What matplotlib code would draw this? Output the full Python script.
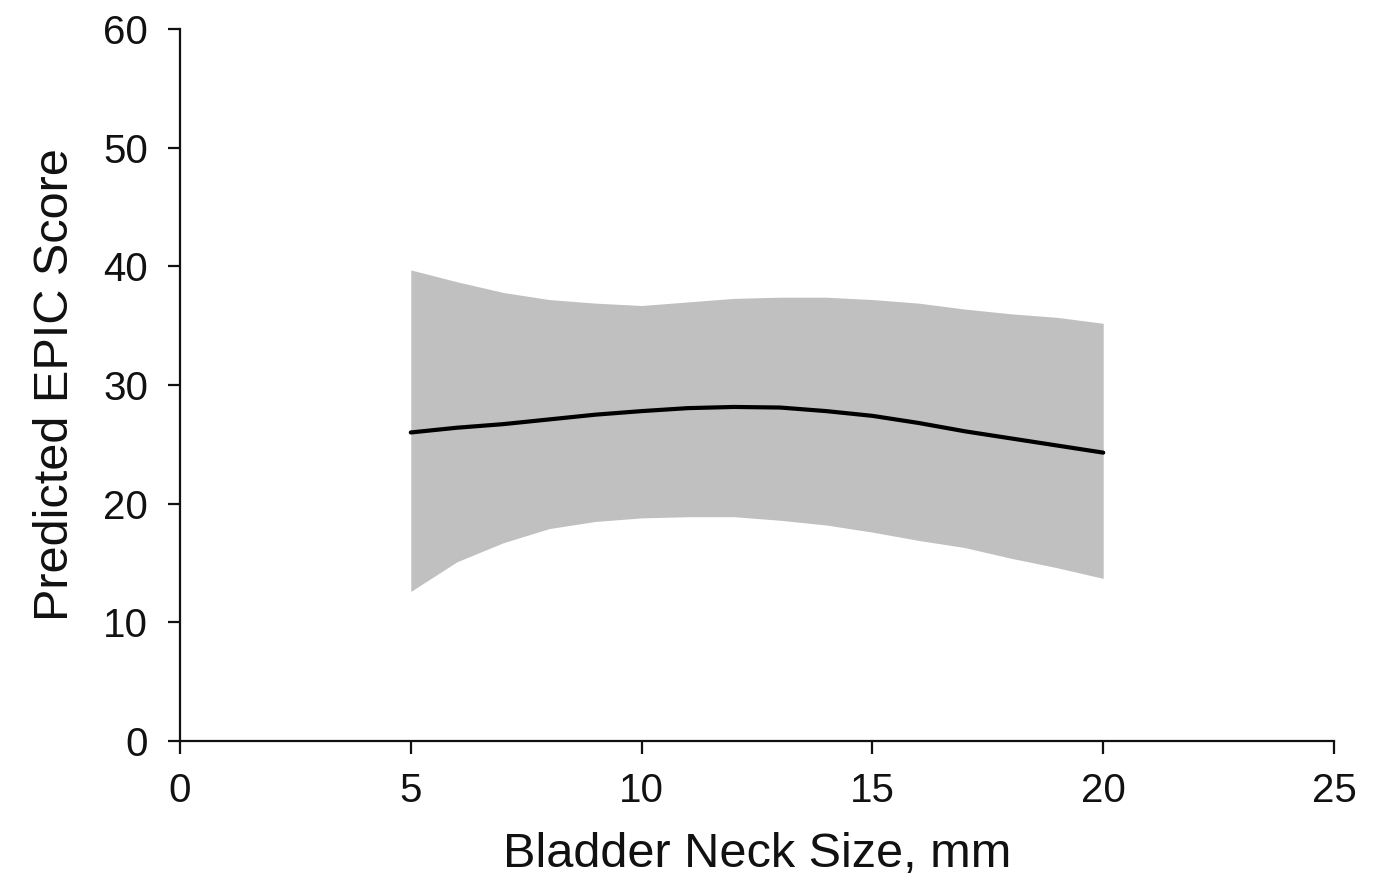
import matplotlib.pyplot as plt

plt.rcParams['font.family'] = ['Liberation Sans', 'DejaVu Sans']

# values, one per mm
neck_size = [5, 6, 7, 8, 9, 10, 11, 12, 13, 14, 15, 16, 17, 18, 19, 20]
epic_pred = [26.0, 26.4, 26.7, 27.1, 27.5, 27.8, 28.05, 28.15, 28.1, 27.8,
             27.4, 26.8, 26.1, 25.5, 24.9, 24.3]
ci_upper = [39.7, 38.7, 37.8, 37.2, 36.9, 36.7, 37.0, 37.3, 37.4, 37.4,
            37.2, 36.9, 36.4, 36.0, 35.7, 35.2]
ci_lower = [12.6, 15.1, 16.7, 17.9, 18.5, 18.8, 18.9, 18.9, 18.6, 18.2,
            17.6, 16.9, 16.3, 15.4, 14.6, 13.7]

x_ticks = [0, 5, 10, 15, 20, 25]
y_ticks = [0, 10, 20, 30, 40, 50, 60]

fig = plt.figure(figsize=(13.76, 8.8), dpi=100)
ax = fig.add_axes([0.1308, 0.158, 0.8387, 0.809])

ax.fill_between(neck_size, ci_lower, ci_upper, color='#c0c0c0', linewidth=0)
ax.plot(neck_size, epic_pred, color='black', linewidth=3, solid_capstyle='round')

ax.set_xlim(0, 25)
ax.set_ylim(0, 60)
ax.set_xticks(x_ticks)
ax.set_yticks(y_ticks)

for side in ('top', 'right'):
    ax.spines[side].set_visible(False)
for side in ('left', 'bottom'):
    ax.spines[side].set_linewidth(1.6)
    ax.spines[side].set_color('#111111')

ax.tick_params(axis='both', direction='out', length=9, width=1.6, labelsize=29, colors='#111111')
ax.tick_params(axis='y', pad=14)
ax.tick_params(axis='x', pad=13)

ax.set_xlabel('Bladder Neck Size, mm', fontsize=35, labelpad=16, color='#111111')
ax.set_ylabel('Predicted EPIC Score', fontsize=35, labelpad=18, color='#111111')

fig.savefig('out.png', dpi=100, facecolor='white')
